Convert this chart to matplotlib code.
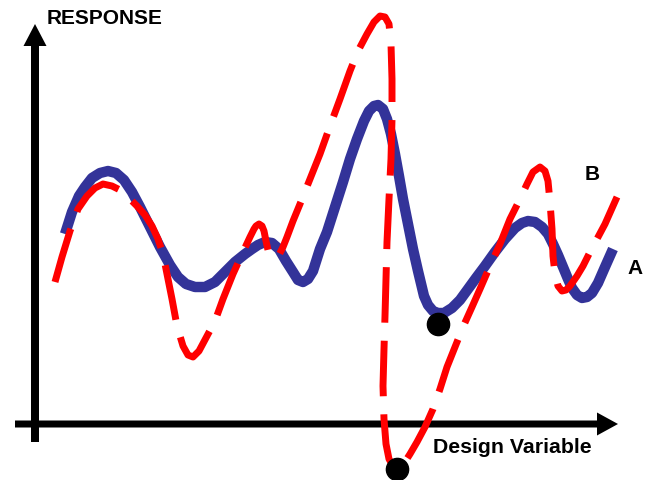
import numpy as np
import matplotlib
matplotlib.use("Agg")
import matplotlib.pyplot as plt
from matplotlib.patches import FancyArrow

plt.rcParams['font.family'] = ['Liberation Sans', 'DejaVu Sans']

# curve A (solid blue): design variable vs response
a_x = [65, 72, 79, 85, 92, 100, 108, 116, 124, 132,
       140, 150, 160, 170, 178, 186, 195, 205, 215, 225,
       235, 245, 252, 258, 265, 272, 279, 286, 293, 298,
       303, 308, 313, 320, 327, 335, 343, 350, 357, 364,
       369, 374, 378, 383, 387, 391, 395, 399, 403, 408,
       413, 418, 424, 428, 433, 438, 444, 452, 460, 468,
       476, 485, 495, 505, 515, 522, 528, 535, 542, 548,
       553, 558, 563, 568, 572, 577, 582, 587, 592, 598,
       605, 613]
a_y = [190, 212, 228, 237, 246, 251, 253, 251, 244, 232,
       217, 197, 177, 159, 147, 140, 137, 137, 142, 152,
       162, 170, 175, 179, 182, 181, 175, 163, 152, 144,
       142, 145, 153, 175, 192, 217, 242, 265, 285, 303,
       313, 318, 319, 315, 305, 290, 270, 248, 225, 200,
       175, 153, 128, 119, 113, 111, 111, 116, 124, 135,
       146, 158, 172, 185, 196, 201, 203, 202, 197, 190,
       180, 169, 157, 145, 136, 129, 126, 127, 131, 141,
       157, 175]

# curve B (dashed red)
b_x = [55, 62, 70, 78, 87, 95, 103, 112, 120, 128,
       137, 145, 152, 158, 163, 167, 172, 177, 183, 188,
       193, 199, 207, 215, 223, 233, 243, 250, 254, 256,
       259, 262, 264, 266, 268, 271, 275, 279, 283, 287,
       293, 300, 310, 320, 330, 340, 350, 358, 367, 374,
       380, 385, 389, 391, 392, 392, 391, 389, 387, 386,
       385, 384, 383, 384, 386, 389, 393, 397, 403, 410,
       417, 425, 433, 440, 447, 455, 463, 472, 480, 490,
       500, 510, 520, 527, 533, 540, 545, 548, 550, 552,
       553, 555, 558, 562, 566, 570, 577, 583, 590, 597,
       605, 617]
b_y = [142, 167, 193, 215, 228, 236, 240, 238, 234, 227,
       218, 209, 198, 185, 170, 150, 125, 98, 78, 69,
       67, 73, 88, 103, 125, 150, 172, 187, 195, 198,
       200, 198, 193, 183, 174, 168, 166, 169, 177, 187,
       203, 220, 245, 270, 298, 325, 353, 373, 390, 402,
       408, 407, 400, 380, 345, 305, 265, 225, 182, 145,
       108, 75, 38, 5, -20, -35, -42, -45, -41, -30,
       -18, -3, 15, 35, 57, 77, 97, 117, 135, 158,
       180, 205, 225, 240, 252, 257, 253, 243, 222, 195,
       168, 150, 138, 133, 134, 138, 148, 158, 172, 185,
       200, 227]

# minima marked with dots
dot_x = [438, 397]
dot_y = [100, -45]

fig = plt.figure(figsize=(6.51, 4.81), dpi=100)
ax = fig.add_axes([0, 0, 1, 1])
ax.set_xlim(0, 651)
ax.set_ylim(-56, 425)
ax.axis("off")

# axes arrows
ax.add_patch(FancyArrow(15, 0, 603, 0, width=7, head_width=23, head_length=21,
                        length_includes_head=True, color="black", lw=0))
ax.add_patch(FancyArrow(35, -18, 0, 418, width=8, head_width=23, head_length=22,
                        length_includes_head=True, color="black", lw=0))

ax.plot(a_x, a_y, color="#333399", lw=7.5, solid_capstyle="butt",
        solid_joinstyle="round", zorder=3)
ax.plot(b_x, b_y, color="#FF0000", lw=5, dashes=(8, 2.6),
        dash_capstyle="butt", dash_joinstyle="round", zorder=4)
ax.plot(dot_x, dot_y, "o", color="black", ms=16, zorder=5)

ax.text(47, 407, "RESPONSE", fontsize=15, fontweight="bold", va="center", ha="left")
ax.text(433, -23, "Design Variable", fontsize=15.3, fontweight="bold", va="center", ha="left")
ax.text(635, 157, "A", fontsize=15, fontweight="bold", va="center", ha="center")
ax.text(592, 250, "B", fontsize=15, fontweight="bold", va="center", ha="center")

fig.savefig("out.png", dpi=100)
